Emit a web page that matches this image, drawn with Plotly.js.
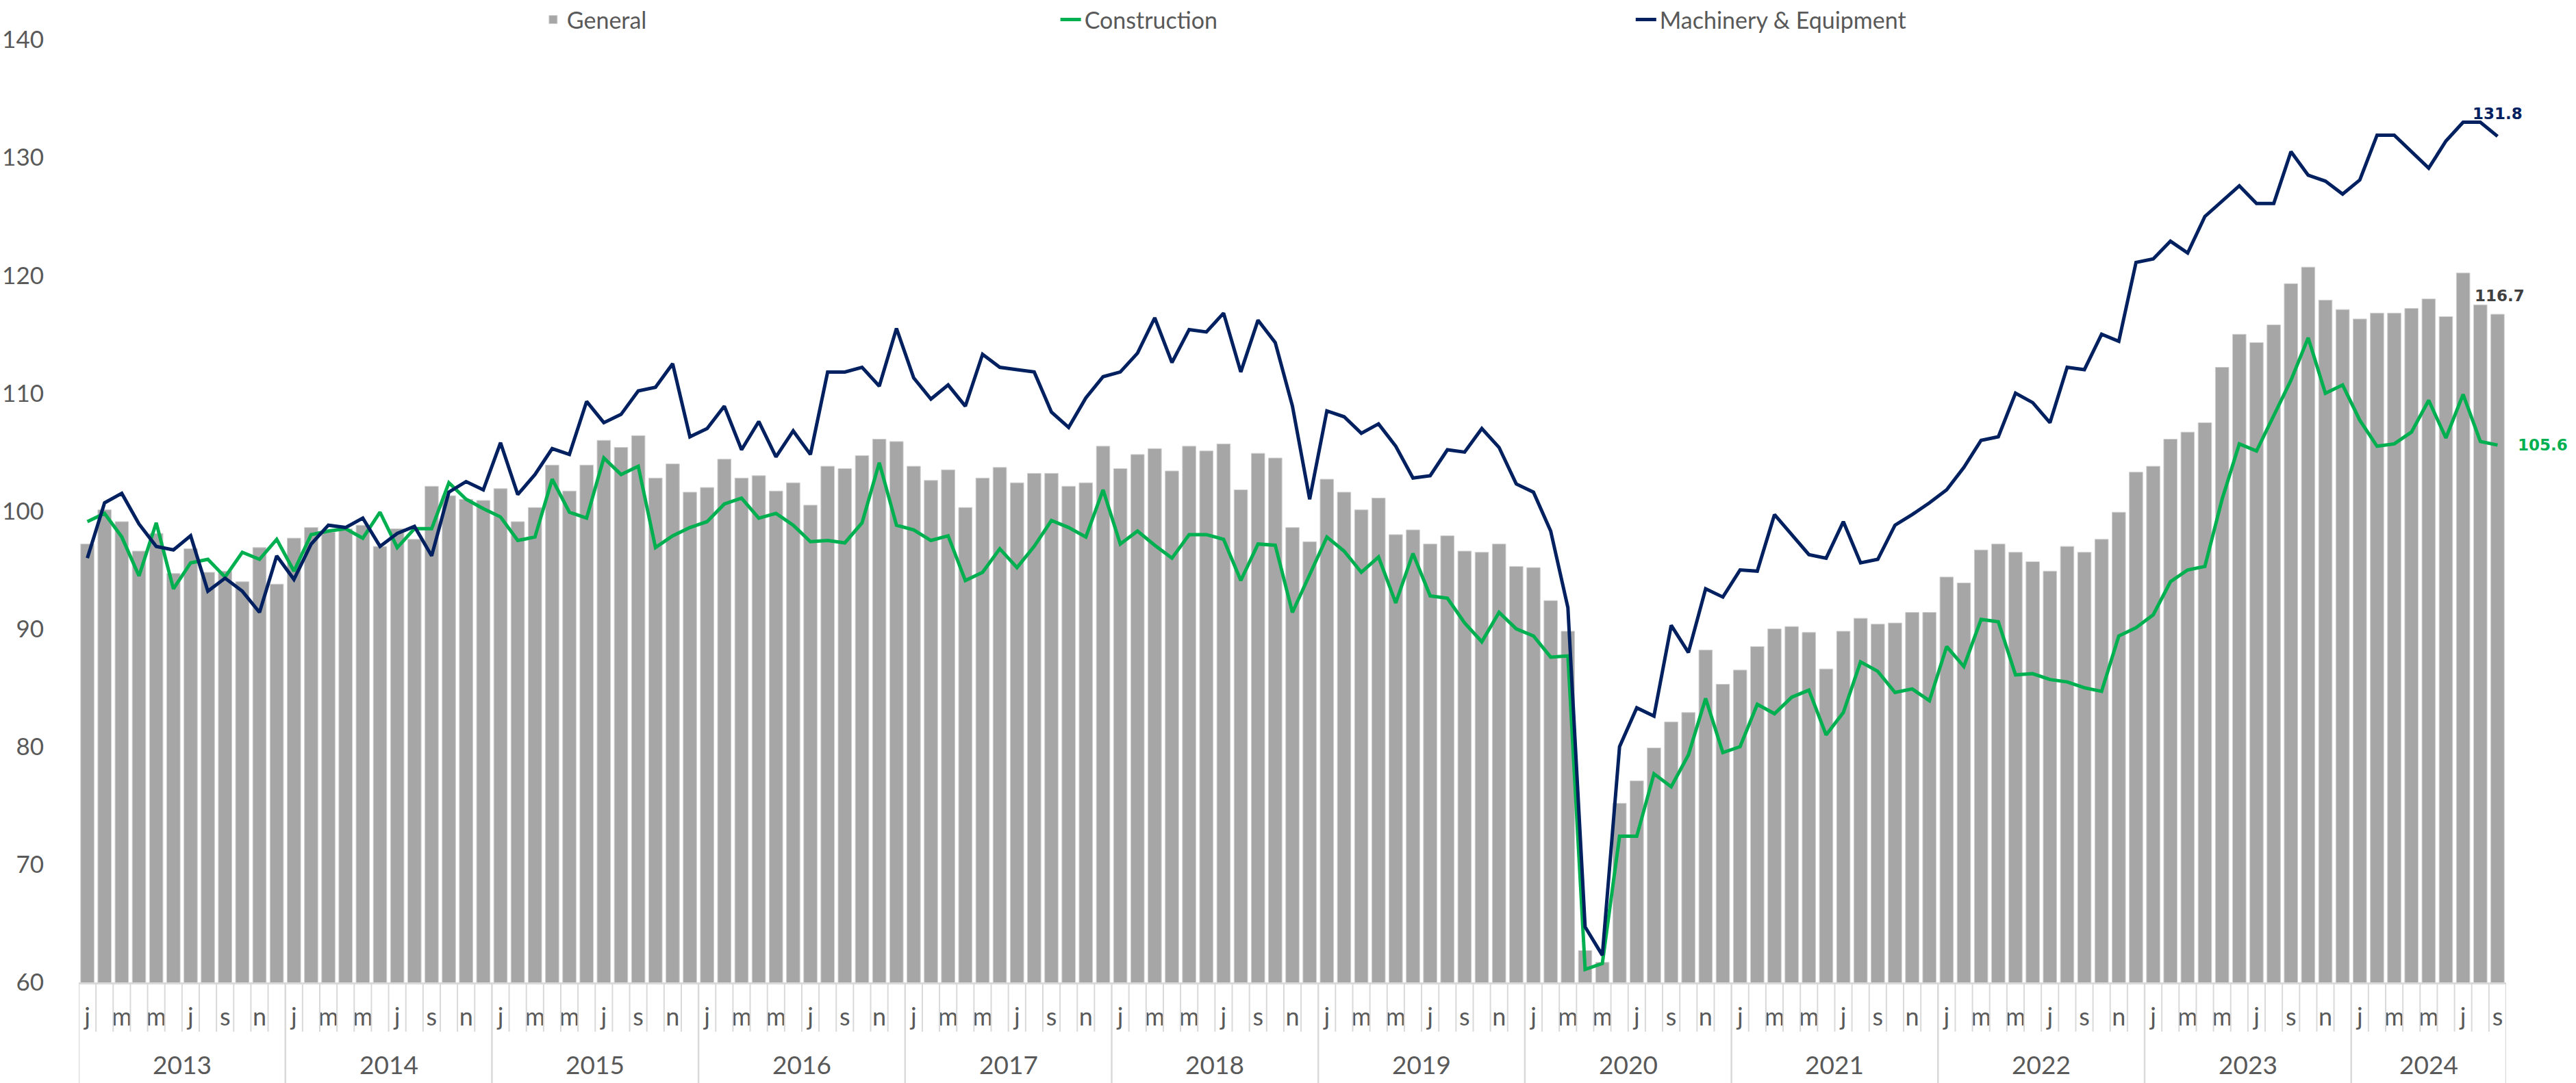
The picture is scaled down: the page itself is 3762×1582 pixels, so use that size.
<!DOCTYPE html>
<html>
<head>
<meta charset="utf-8">
<script src="https://cdn.plot.ly/plotly-3.0.1.min.js"></script>
<style>
html, body { margin: 0; padding: 0; background: #ffffff; }
#chart { width: 3762px; height: 1582px; }
</style>
</head>
<body>
<div id="chart"></div>
<script>
// ---------- data ----------
const years = [2013, 2014, 2015, 2016, 2017, 2018, 2019, 2020, 2021, 2022, 2023, 2024];
const monthsInYear = [12, 12, 12, 12, 12, 12, 12, 12, 12, 12, 12, 9];
const monthLabels = ['j', '', 'm', '', 'm', '', 'j', '', 's', '', 'n', ''];

const seriesNames = ['General', 'Construction', 'Machinery & Equipment'];

const general = [
  97.2, 100.1, 99.1, 96.6, 98.1, 94.7, 96.8, 94.8, 94.9, 94.0, 96.9, 93.8,
  97.7, 98.6, 98.2, 98.5, 98.8, 97.0, 98.5, 97.6, 102.1, 101.3, 101.0, 100.9,
  101.9, 99.1, 100.3, 103.9, 101.7, 103.9, 106.0, 105.4, 106.4, 102.8, 104.0, 101.6,
  102.0, 104.4, 102.8, 103.0, 101.7, 102.4, 100.5, 103.8, 103.6, 104.7, 106.1, 105.9,
  103.8, 102.6, 103.5, 100.3, 102.8, 103.7, 102.4, 103.2, 103.2, 102.1, 102.4, 105.5,
  103.6, 104.8, 105.3, 103.4, 105.5, 105.1, 105.7, 101.8, 104.9, 104.5, 98.6, 97.4,
  102.7, 101.6, 100.1, 101.1, 98.0, 98.4, 97.2, 97.9, 96.6, 96.5, 97.2, 95.3,
  95.2, 92.4, 89.8, 62.7, 61.7, 75.2, 77.1, 79.9, 82.1, 82.9, 88.2, 85.3,
  86.5, 88.5, 90.0, 90.2, 89.7, 86.6, 89.8, 90.9, 90.4, 90.5, 91.4, 91.4,
  94.4, 93.9, 96.7, 97.2, 96.5, 95.7, 94.9, 97.0, 96.5, 97.6, 99.9, 103.3,
  103.8, 106.1, 106.7, 107.5, 112.2, 115.0, 114.3, 115.8, 119.3, 120.7, 117.9, 117.1,
  116.3, 116.8, 116.8, 117.2, 118.0, 116.5, 120.2, 117.5, 116.7
];

const construction = [
  99.1, 99.8, 97.8, 94.5, 99.0, 93.4, 95.6, 95.9, 94.4, 96.5, 95.9, 97.6,
  94.9, 98.0, 98.3, 98.5, 97.7, 99.9, 96.9, 98.5, 98.5, 102.4, 101.0, 100.2,
  99.5, 97.5, 97.8, 102.7, 99.9, 99.4, 104.5, 103.1, 103.8, 96.9, 97.9, 98.6,
  99.1, 100.6, 101.1, 99.4, 99.8, 98.8, 97.4, 97.5, 97.3, 99.0, 104.1, 98.8,
  98.4, 97.5, 97.9, 94.1, 94.8, 96.8, 95.2, 97.0, 99.2, 98.6, 97.8, 101.8,
  97.2, 98.3, 97.1, 96.0, 98.0, 98.0, 97.6, 94.1, 97.2, 97.1, 91.4, 94.6,
  97.8, 96.6, 94.8, 96.1, 92.2, 96.4, 92.8, 92.6, 90.5, 88.9, 91.4, 90.0,
  89.4, 87.6, 87.7, 61.1, 61.6, 72.4, 72.4, 77.7, 76.6, 79.3, 84.1, 79.5,
  80.0, 83.6, 82.8, 84.2, 84.8, 81.0, 82.9, 87.2, 86.4, 84.6, 84.9, 83.9,
  88.5, 86.8, 90.8, 90.6, 86.1, 86.2, 85.7, 85.5, 85.0, 84.7, 89.4, 90.1,
  91.2, 94.0, 95.0, 95.3, 101.0, 105.7, 105.1, 108.1, 111.1, 114.7, 110.0, 110.7,
  107.7, 105.5, 105.7, 106.7, 109.4, 106.2, 109.9, 105.9, 105.6
];

const machinery = [
  96.0, 100.7, 101.5, 98.9, 97.0, 96.7, 97.9, 93.2, 94.3, 93.2, 91.4, 96.2,
  94.2, 97.2, 98.8, 98.6, 99.4, 97.0, 98.1, 98.7, 96.2, 101.6, 102.5, 101.8,
  105.8, 101.4, 103.1, 105.3, 104.8, 109.3, 107.5, 108.2, 110.2, 110.5, 112.5, 106.3,
  107.0, 108.9, 105.2, 107.6, 104.6, 106.8, 104.8, 111.8, 111.8, 112.2, 110.6, 115.5,
  111.3, 109.5, 110.7, 108.9, 113.3, 112.2, 112.0, 111.8, 108.4, 107.1, 109.6, 111.4,
  111.8, 113.4, 116.4, 112.6, 115.4, 115.2, 116.8, 111.8, 116.2, 114.3, 108.9, 101.0,
  108.5, 108.0, 106.6, 107.4, 105.5, 102.8, 103.0, 105.2, 105.0, 107.0, 105.4, 102.3,
  101.6, 98.3, 91.8, 64.7, 62.3, 80.0, 83.3, 82.6, 90.3, 88.0, 93.4, 92.7,
  95.0, 94.9, 99.7, 98.0, 96.3, 96.0, 99.1, 95.6, 95.9, 98.8, 99.7, 100.7,
  101.8, 103.7, 106.0, 106.3, 110.0, 109.2, 107.5, 112.2, 112.0, 115.0, 114.4, 121.1,
  121.4, 122.9, 121.9, 125.0, 126.3, 127.6, 126.1, 126.1, 130.5, 128.5, 128.0, 126.9,
  128.1, 131.9, 131.9, 130.5, 129.1, 131.4, 133.0, 133.0, 131.8
];

const yTicks = [60, 70, 80, 90, 100, 110, 120, 130, 140];

// ---------- styling ----------
const C_BAR = '#a6a6a6';
const C_GREEN = '#00b050';
const C_NAVY = '#002060';
const C_TEXT = '#595959';
const C_AXIS = '#d9d9d9';
const FONT = 'Lato, "Open Sans", sans-serif';
const LABEL_FONT = '"DejaVu Sans", Verdana, sans-serif';

const W = 3762, H = 1582;
const M = { l: 115, r: 102, t: 58, b: 147, autoexpand: false };
const plotH = H - M.t - M.b;

// x positions: month index along the axis
const x = general.map((_, i) => i);
const n = general.length;

// month tick labels
const tickvals = [], ticktext = [];
x.forEach(i => {
  const lab = monthLabels[i % 12];
  if (lab) { tickvals.push(i); ticktext.push(lab); }
});

// boundaries and year groups
const shapes = [];
const annotations = [];
let start = 0;
years.forEach((yr, k) => {
  const cnt = monthsInYear[k];
  const end = start + cnt - 1;
  for (let j = 0; j < cnt; j++) {
    const bx = start + j - 0.5;
    const isYear = j === 0;
    shapes.push({
      type: 'line', xref: 'x', yref: 'paper',
      x0: bx, x1: bx, y0: 0, y1: isYear ? -M.b / plotH : -72 / plotH,
      line: { color: C_AXIS, width: isYear ? 2.5 : 2 }
    });
  }
  annotations.push({
    x: (start + end) / 2, xref: 'x', y: -119 / plotH, yref: 'paper',
    text: String(yr), showarrow: false, xanchor: 'center', yanchor: 'middle',
    font: { family: FONT, size: 37, color: C_TEXT }
  });
  start = end + 1;
});
// closing boundary at the right end
shapes.push({
  type: 'line', xref: 'x', yref: 'paper',
  x0: n - 0.5, x1: n - 0.5, y0: 0, y1: -M.b / plotH,
  line: { color: C_AXIS, width: 2.5 }
});

// end-of-series data labels
const last = n - 1;
annotations.push({
  x: last, y: machinery[last], xref: 'x', yref: 'y',
  text: '<b>' + machinery[last].toFixed(1) + '</b>', showarrow: false,
  xanchor: 'center', yanchor: 'bottom', yshift: 18,
  font: { family: LABEL_FONT, size: 23, color: C_NAVY }
});
annotations.push({
  x: last, y: general[last], xref: 'x', yref: 'y',
  text: '<b>' + general[last].toFixed(1) + '</b>', showarrow: false,
  xanchor: 'center', yanchor: 'bottom', yshift: 12, xshift: 3,
  font: { family: LABEL_FONT, size: 23, color: '#404040' }
});
annotations.push({
  x: last, y: construction[last], xref: 'x', yref: 'y',
  text: '<b>' + construction[last].toFixed(1) + '</b>', showarrow: false,
  xanchor: 'left', yanchor: 'middle', xshift: 28,
  font: { family: LABEL_FONT, size: 23, color: C_GREEN }
});

const traces = [
  {
    type: 'bar', name: seriesNames[0], x: x, y: general,
    marker: { color: C_BAR, line: { color: '#d0d0d0', width: 1 } },
    legend: 'legend', hoverinfo: 'y'
  },
  {
    type: 'scatter', mode: 'lines', name: seriesNames[1], x: x, y: construction,
    line: { color: C_GREEN, width: 5 }, legend: 'legend2', hoverinfo: 'y'
  },
  {
    type: 'scatter', mode: 'lines', name: seriesNames[2], x: x, y: machinery,
    line: { color: C_NAVY, width: 5 }, legend: 'legend3', hoverinfo: 'y'
  }
];

const legendBase = {
  orientation: 'h', yanchor: 'middle', y: 1 + 29 / plotH, xanchor: 'left',
  font: { family: FONT, size: 34, color: C_TEXT },
  bgcolor: 'rgba(0,0,0,0)', itemwidth: 30
};

const layout = {
  width: W, height: H,
  margin: M,
  paper_bgcolor: '#ffffff', plot_bgcolor: '#ffffff',
  bargap: 0.22,
  showlegend: true,
  legend: Object.assign({}, legendBase, { x: 0.1898 }),
  legend2: Object.assign({}, legendBase, { x: 0.403 }),
  legend3: Object.assign({}, legendBase, { x: 0.640 }),
  xaxis: {
    type: 'linear', range: [-0.5, n - 0.5],
    showgrid: false, zeroline: false,
    showline: true, linecolor: C_AXIS, linewidth: 3,
    ticks: '', tickmode: 'array', tickvals: tickvals, ticktext: ticktext,
    tickfont: { family: FONT, size: 36, color: C_TEXT },
    ticklabelstandoff: 17
  },
  yaxis: {
    range: [60, 140], tickmode: 'array', tickvals: yTicks,
    ticktext: yTicks.map(String),
    showgrid: false, zeroline: false, showline: false, ticks: '',
    tickfont: { family: FONT, size: 35, color: C_TEXT },
    ticklabelstandoff: 50
  },
  shapes: shapes,
  annotations: annotations
};

Plotly.newPlot('chart', traces, layout, { displayModeBar: false, staticPlot: true });
</script>
</body>
</html>
